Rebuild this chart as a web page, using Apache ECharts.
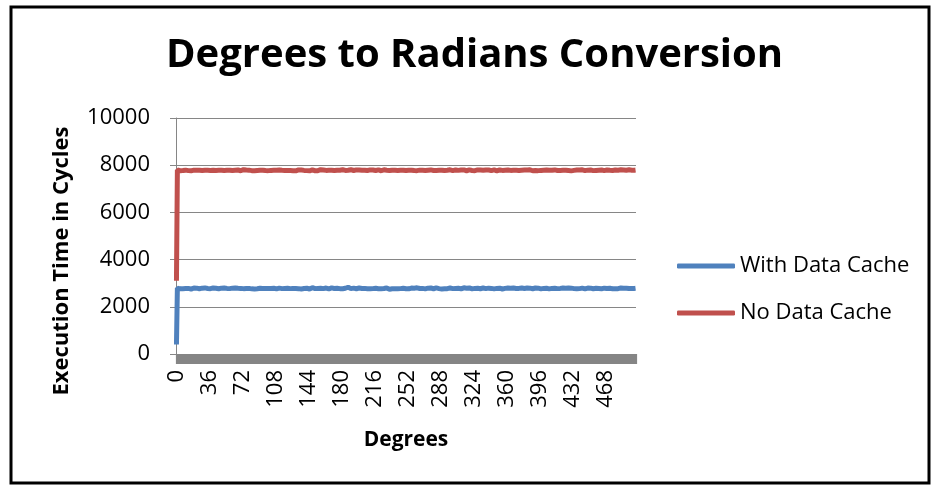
<!DOCTYPE html>
<html>
<head>
<meta charset="utf-8">
<script src="https://cdn.jsdelivr.net/npm/echarts@6/dist/echarts.min.js"></script>
<style>html,body{margin:0;padding:0;background:#fff}#c{width:932px;height:486px}</style>
</head>
<body>
<div id="c"></div>
<script>
const titleText = 'Degrees to Radians Conversion';
const xAxisTitle = 'Degrees';
const yAxisTitle = 'Execution Time in Cycles';
const seriesNames = ['With Data Cache', 'No Data Cache'];
const categories = [];
for (let d = 0; d <= 500; d++) categories.push(String(d));
const yTicks = [0, 2000, 4000, 6000, 8000, 10000];

const withCache = [
400,2790,2770,2785,2760,2780,2795,2770,2755,2785,2775,2800,2765,2780,2770,2790,2750,2785,2775,2795,
2770,2760,2790,2780,2805,2765,2775,2755,2790,2780,2770,2800,2760,2785,2775,2745,2790,2770,2780,2765,
2795,2775,2760,2785,2770,2810,2765,2780,2755,2790,2775,2770,2800,2760,2785,2780,2750,2795,2770,2775,
2760,2790,2780,2765,2800,2775,2755,2785,2770,2795,2780,2760,2790,2770,2745,2785,2775,2805,2765,2780,
2770,2795,2760,2785,2775,2750,2790,2780,2765,2800,2770,2785,2755,2790,2775,2765,2810,2780,2760,2785,
2775,2790,2765,2780,2800,2755,2785,2770,2795,2760,2780,2775,2790,2750,2785,2770,2800,2765,2780,2790,
2760,2785,2775,2795,2770,2745,2790,2780,2765,2805,2775,2760,2785,2770,2795,2780,2755,2790,2770,2775,
2800,2765,2785,2770,2790,2755,2780,2775,2810,2760,2785,2770,2795,2765,2780,2790,2750,2785,2775,2800,
2770,2780,2760,2795,2775,2785,2755,2790,2770,2800,2765,2780,2775,2745,2790,2785,2760,2795,2770,2780,
2790,2765,2800,2775,2785,2760,2795,2830,2845,2790,2770,2785,2755,2790,2775,2800,2765,2780,2770,2795,
2760,2785,2775,2790,2750,2780,2770,2805,2765,2785,2775,2760,2795,2780,2770,2790,2755,2785,2775,2800,
2765,2780,2790,2770,2755,2795,2775,2785,2760,2800,2770,2780,2745,2790,2775,2765,2805,2780,2770,2785,
2775,2760,2795,2780,2770,2790,2750,2785,2775,2800,2765,2780,2790,2760,2785,2770,2795,2775,2755,2790,
2780,2770,2805,2765,2785,2775,2790,2755,2780,2770,2800,2760,2785,2775,2790,2745,2780,2795,2770,2785,
2765,2790,2775,2800,2760,2785,2770,2780,2795,2755,2790,2775,2765,2810,2780,2770,2785,2760,2795,2775,
2785,2770,2790,2750,2780,2800,2765,2785,2775,2790,2760,2780,2770,2805,2775,2755,2790,2780,2765,2800,
2770,2785,2760,2795,2775,2780,2790,2755,2785,2770,2800,2765,2780,2775,2795,2745,2790,2770,2785,2775,
2790,2765,2800,2780,2770,2785,2760,2795,2775,2780,2810,2770,2790,2765,2785,2755,2800,2775,2780,2790,
2775,2795,2785,2805,2790,2780,2810,2795,2785,2800,2775,2790,2805,2780,2795,2770,2800,2785,2790,2775,
2785,2770,2795,2760,2780,2790,2775,2800,2765,2785,2770,2795,2780,2755,2790,2775,2785,2760,2800,2770,
2780,2790,2765,2785,2775,2800,2760,2790,2770,2780,2795,2755,2785,2775,2790,2770,2805,2765,2780,2785,
2770,2795,2780,2760,2790,2775,2785,2800,2765,2780,2790,2750,2785,2770,2795,2775,2760,2790,2780,2770,
2785,2765,2790,2775,2800,2760,2780,2770,2795,2785,2755,2790,2775,2780,2765,2800,2770,2785,2760,2790,
2775,2780,2795,2765,2785,2770,2790,2750,2780,2775,2800,2765,2790,2770,2785,2760,2795,2780,2770,2785,
2790,2770,2780,2765,2795,2775,2760,2785,2780,2770,2790,2765,2785,2775,2795,2770,2780,2790,2775,2780,
2785
];

const noCache = [
3100,7800,7780,7795,7770,7810,7785,7775,7800,7765,7790,7780,7805,7770,7795,7785,7760,7800,7780,7790,
7775,7800,7785,7810,7770,7790,7765,7795,7780,7805,7760,7790,7775,7800,7785,7770,7815,7780,7795,7770,
7790,7765,7800,7780,7795,7755,7785,7775,7805,7790,7770,7800,7780,7765,7795,7785,7810,7770,7790,7780,
7800,7775,7790,7760,7785,7805,7770,7795,7780,7790,7765,7800,7775,7810,7785,7770,7795,7780,7760,7790,
7785,7800,7770,7795,7780,7765,7805,7790,7775,7800,7760,7785,7795,7770,7790,7780,7815,7775,7795,7785,
7770,7790,7805,7780,7795,7760,7785,7800,7770,7790,7780,7750,7795,7775,7805,7785,7770,7800,7780,7790,
7795,7780,7765,7800,7775,7790,7810,7770,7785,7795,7760,7790,7780,7800,7770,7785,7795,7775,7805,7780,
7780,7795,7770,7805,7785,7760,7790,7780,7800,7775,7790,7765,7805,7785,7770,7795,7780,7810,7775,7790,
7800,7770,7790,7780,7755,7795,7785,7775,7800,7790,7770,7805,7780,7795,7765,7790,7775,7800,7785,7770,
7790,7805,7775,7795,7780,7765,7800,7785,7790,7770,7810,7780,7795,7775,7790,7760,7800,7785,7780,7795,
7770,7795,7785,7800,7760,7790,7780,7805,7775,7790,7765,7800,7785,7770,7795,7780,7810,7775,7790,7785,
7800,7775,7790,7765,7795,7780,7805,7770,7790,7785,7760,7800,7775,7795,7780,7790,7770,7805,7785,7775,
7790,7780,7800,7770,7785,7795,7755,7790,7780,7800,7775,7765,7795,7785,7810,7770,7790,7780,7800,7775,
7785,7795,7770,7805,7780,7790,7765,7800,7785,7775,7795,7780,7810,7770,7790,7785,7760,7800,7780,7795,
7775,7790,7800,7780,7765,7795,7785,7805,7770,7790,7780,7800,7775,7760,7795,7785,7790,7770,7805,7780,
7790,7770,7795,7785,7800,7760,7790,7780,7805,7775,7795,7785,7770,7800,7780,7790,7765,7795,7785,7800,
7780,7795,7775,7790,7805,7770,7785,7760,7800,7790,7780,7795,7770,7805,7785,7775,7790,7800,7765,7790,
7795,7780,7805,7770,7790,7785,7800,7775,7795,7760,7790,7785,7800,7770,7810,7780,7795,7775,7790,7785,
7770,7800,7785,7795,7780,7765,7805,7790,7775,7800,7785,7770,7795,7780,7810,7775,7790,7800,7780,7795,
7785,7775,7800,7790,7770,7805,7780,7795,7765,7790,7800,7775,7785,7795,7770,7805,7790,7780,7800,7775,
7790,7805,7780,7795,7770,7800,7785,7775,7810,7790,7780,7765,7800,7785,7795,7775,7790,7805,7780,7770,
7800,7785,7795,7770,7790,7780,7805,7775,7795,7785,7760,7800,7790,7780,7805,7770,7795,7785,7790,7800,
7775,7790,7805,7785,7795,7770,7800,7780,7790,7810,7775,7795,7785,7800,7770,7790,7805,7780,7795,7785,
7790,7800,7775,7795,7785,7805,7770,7790,7780,7800,7795,7765,7785,7800,7790,7775,7805,7785,7795,7780,
7800,7785,7790,7775,7805,7790,7780,7795,7770,7800,7785,7790,7775,7805,7795,7780,7790,7800,7785,7790,
7795
];

const FONT = 'Open Sans';
const GRAY = '#868686';
const chart = echarts.init(document.getElementById('c'), null, {renderer: 'canvas'});
chart.setOption({
  animation: false,
  backgroundColor: '#ffffff',
  color: ['#4F81BD', '#C0504D'],
  title: {
    text: titleText,
    left: 166,
    top: 36,
    padding: 0,
    textStyle: {fontFamily: FONT, fontWeight: 'bold', fontSize: 40, color: '#000'}
  },
  grid: {left: 176, right: 296, top: 118, bottom: 132, containLabel: false},
  legend: {
    orient: 'vertical',
    left: 672,
    top: 250,
    itemGap: 25,
    itemWidth: 58,
    itemHeight: 5,
    icon: 'roundRect',
    textStyle: {fontFamily: FONT, fontSize: 22, color: '#000'},
    data: seriesNames
  },
  xAxis: {
    type: 'category',
    data: categories,
    boundaryGap: true,
    name: xAxisTitle,
    nameLocation: 'middle',
    nameGap: 76,
    nameTextStyle: {fontFamily: FONT, fontWeight: 'bold', fontSize: 21, color: '#000'},
    axisLine: {lineStyle: {color: GRAY, width: 1}},
    axisTick: {show: true, interval: 0, length: 10, lineStyle: {color: GRAY, width: 1.2}},
    axisLabel: {interval: 35, rotate: 90, margin: 16, fontFamily: FONT, fontSize: 22, color: '#000'},
    splitLine: {show: false}
  },
  yAxis: {
    type: 'value',
    min: yTicks[0],
    max: yTicks[yTicks.length - 1],
    interval: 2000,
    axisLine: {show: true, lineStyle: {color: GRAY, width: 1}},
    axisTick: {show: true, length: 6, lineStyle: {color: GRAY}},
    axisLabel: {margin: 26, fontFamily: FONT, fontSize: 22, color: '#000', formatter: function (v) { return String(v); }},
    splitLine: {show: true, lineStyle: {color: GRAY, width: 1}}
  },
  graphic: [
    {type: 'rect', shape: {x: 11, y: 7, width: 918, height: 476}, style: {fill: null, stroke: '#000', lineWidth: 3}, silent: true},
    {type: 'text', x: 62, y: 261, rotation: Math.PI / 2,
     style: {text: yAxisTitle, fontFamily: FONT, fontWeight: 'bold', fontSize: 22, fill: '#000', textAlign: 'center', textVerticalAlign: 'middle'}}
  ],
  series: [
    {name: seriesNames[0], type: 'line', data: withCache, showSymbol: false, symbol: 'none', lineStyle: {width: 5}},
    {name: seriesNames[1], type: 'line', data: noCache, showSymbol: false, symbol: 'none', lineStyle: {width: 5}}
  ]
});
</script>
</body>
</html>
